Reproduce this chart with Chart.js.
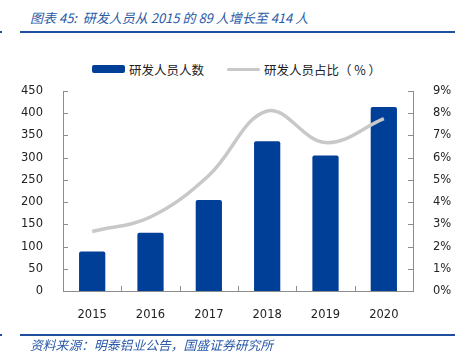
<!DOCTYPE html>
<html>
<head>
<meta charset="utf-8">
<script src="https://cdn.jsdelivr.net/npm/chart.js@4"></script>
<style>
  body { margin: 0; background: #fff; width: 462px; height: 360px; position: relative; overflow: hidden; font-family: "Noto Sans CJK SC", sans-serif; }
  #wrap { position: absolute; left: 0; top: 0; width: 462px; height: 360px; }
  .title { position: absolute; left: 30px; top: 8px; font-size: 13px; font-style: italic; color: #2a5aa8; white-space: nowrap; }
  .rule { position: absolute; left: 20px; width: 435px; height: 2px; background: #1f4f9e; }
  .dot { position: absolute; left: 0; width: 2px; height: 2px; background: #1f4f9e; }
  .source { position: absolute; left: 30px; top: 335px; font-size: 12.8px; font-style: italic; color: #2a5aa8; white-space: nowrap; }
  .legend { position: absolute; top: 60px; font-size: 12.5px; color: #222; white-space: nowrap; }
  .box { position: absolute; top: 65px; left: 92px; width: 33px; height: 8px; background: #003f98; border-radius: 2px; }
  .ln { position: absolute; top: 68px; left: 227px; width: 33px; height: 3px; background: #c8c8c8; border-radius: 2px; }
</style>
</head>
<body>
<div class="title">图表 45:&nbsp; 研发人员从 2015 的 89 人增长至 414 人</div>
<div class="rule" style="top:31px"></div>
<div class="dot" style="top:31px"></div>
<div class="box"></div>
<div class="legend" style="left:129px">研发人员人数</div>
<div class="ln"></div>
<div class="legend" style="left:264px">研发人员占比（ % ）</div>
<div id="wrap"><canvas id="RdChart" width="462" height="360"></canvas></div>
<div class="rule" style="top:334px"></div>
<div class="dot" style="top:334px"></div>
<div class="source">资料来源：明泰铝业公告，国盛证券研究所</div>
<script>
const years = ['2015', '2016', '2017', '2018', '2019', '2020']
const staff = [89, 131, 205, 337, 305, 414]          // 研发人员人数
const staffShare = [2.68, 3.33, 5.2, 8.1, 6.68, 7.76] // 研发人员占比 (%)
const leftTicks = [0, 50, 100, 150, 200, 250, 300, 350, 400, 450]
const rightTicks = [0, 1, 2, 3, 4, 5, 6, 7, 8, 9]

const axisGray = '#8c8c8c'

// kleine tickjes naar binnen, zoals in het origineel
const innerTicks = {
  id: 'innerTicks',
  afterDraw(chart) {
    const ctx = chart.ctx
    const x = chart.scales.x, yl = chart.scales.y, yr = chart.scales.y1
    ctx.save()
    ctx.strokeStyle = axisGray
    ctx.lineWidth = 1
    ctx.beginPath()
    leftTicks.forEach(v => {
      const py = Math.round(yl.getPixelForValue(v)) + 0.5
      ctx.moveTo(yl.right, py); ctx.lineTo(yl.right + 5, py)
    })
    rightTicks.forEach(v => {
      const py = Math.round(yr.getPixelForValue(v)) + 0.5
      ctx.moveTo(yr.left - 5, py); ctx.lineTo(yr.left, py)
    })
    for (let i = 0; i < years.length - 1; i++) {
      const px = Math.round((x.getPixelForValue(i) + x.getPixelForValue(i + 1)) / 2) + 0.5
      ctx.moveTo(px, x.top); ctx.lineTo(px, x.top - 5)
    }
    ctx.stroke()
    ctx.restore()
  }
}

const rd = document.getElementById('RdChart')
new Chart(rd, {
  data: {
    labels: years,
    datasets: [{
      type: 'line',
      label: '研发人员占比（%）',
      data: staffShare,
      yAxisID: 'y1',
      borderColor: '#c8c8c8',
      borderWidth: 3.5,
      pointRadius: 0,
      tension: 0.38,
      order: 0
    }, {
      type: 'bar',
      label: '研发人员人数',
      data: staff,
      yAxisID: 'y',
      backgroundColor: '#003f98',
      borderRadius: 2,
      borderSkipped: 'bottom',
      barPercentage: 0.45,
      categoryPercentage: 1,
      order: 1
    }]
  },
  options: {
    responsive: false,
    animation: false,
    layout: { padding: { top: 91, left: 0, right: 0, bottom: 0 } },
    plugins: { legend: { display: false }, tooltip: { enabled: false } },
    scales: {
      x: {
        grid: { display: false },
        border: { display: true, color: axisGray, width: 1 },
        ticks: { color: '#222', font: { family: 'DejaVu Sans', size: 11.5 }, padding: 9 },
        afterFit: s => { s.height = 69 }
      },
      y: {
        position: 'left',
        min: 0, max: 450,
        afterBuildTicks: s => { s.ticks = leftTicks.map(v => ({ value: v })) },
        grid: { display: false },
        border: { display: true, color: axisGray, width: 1 },
        ticks: { color: '#222', font: { family: 'DejaVu Sans', size: 11.5 }, padding: 12 },
        afterFit: s => { s.width = 63 }
      },
      y1: {
        position: 'right',
        min: 0, max: 9,
        afterBuildTicks: s => { s.ticks = rightTicks.map(v => ({ value: v })) },
        grid: { display: false },
        border: { display: true, color: axisGray, width: 1 },
        ticks: { color: '#222', font: { family: 'DejaVu Sans', size: 11.5 }, padding: 12, callback: v => v + '%' },
        afterFit: s => { s.width = 49 }
      }
    }
  },
  plugins: [innerTicks]
})
</script>
</body>
</html>
